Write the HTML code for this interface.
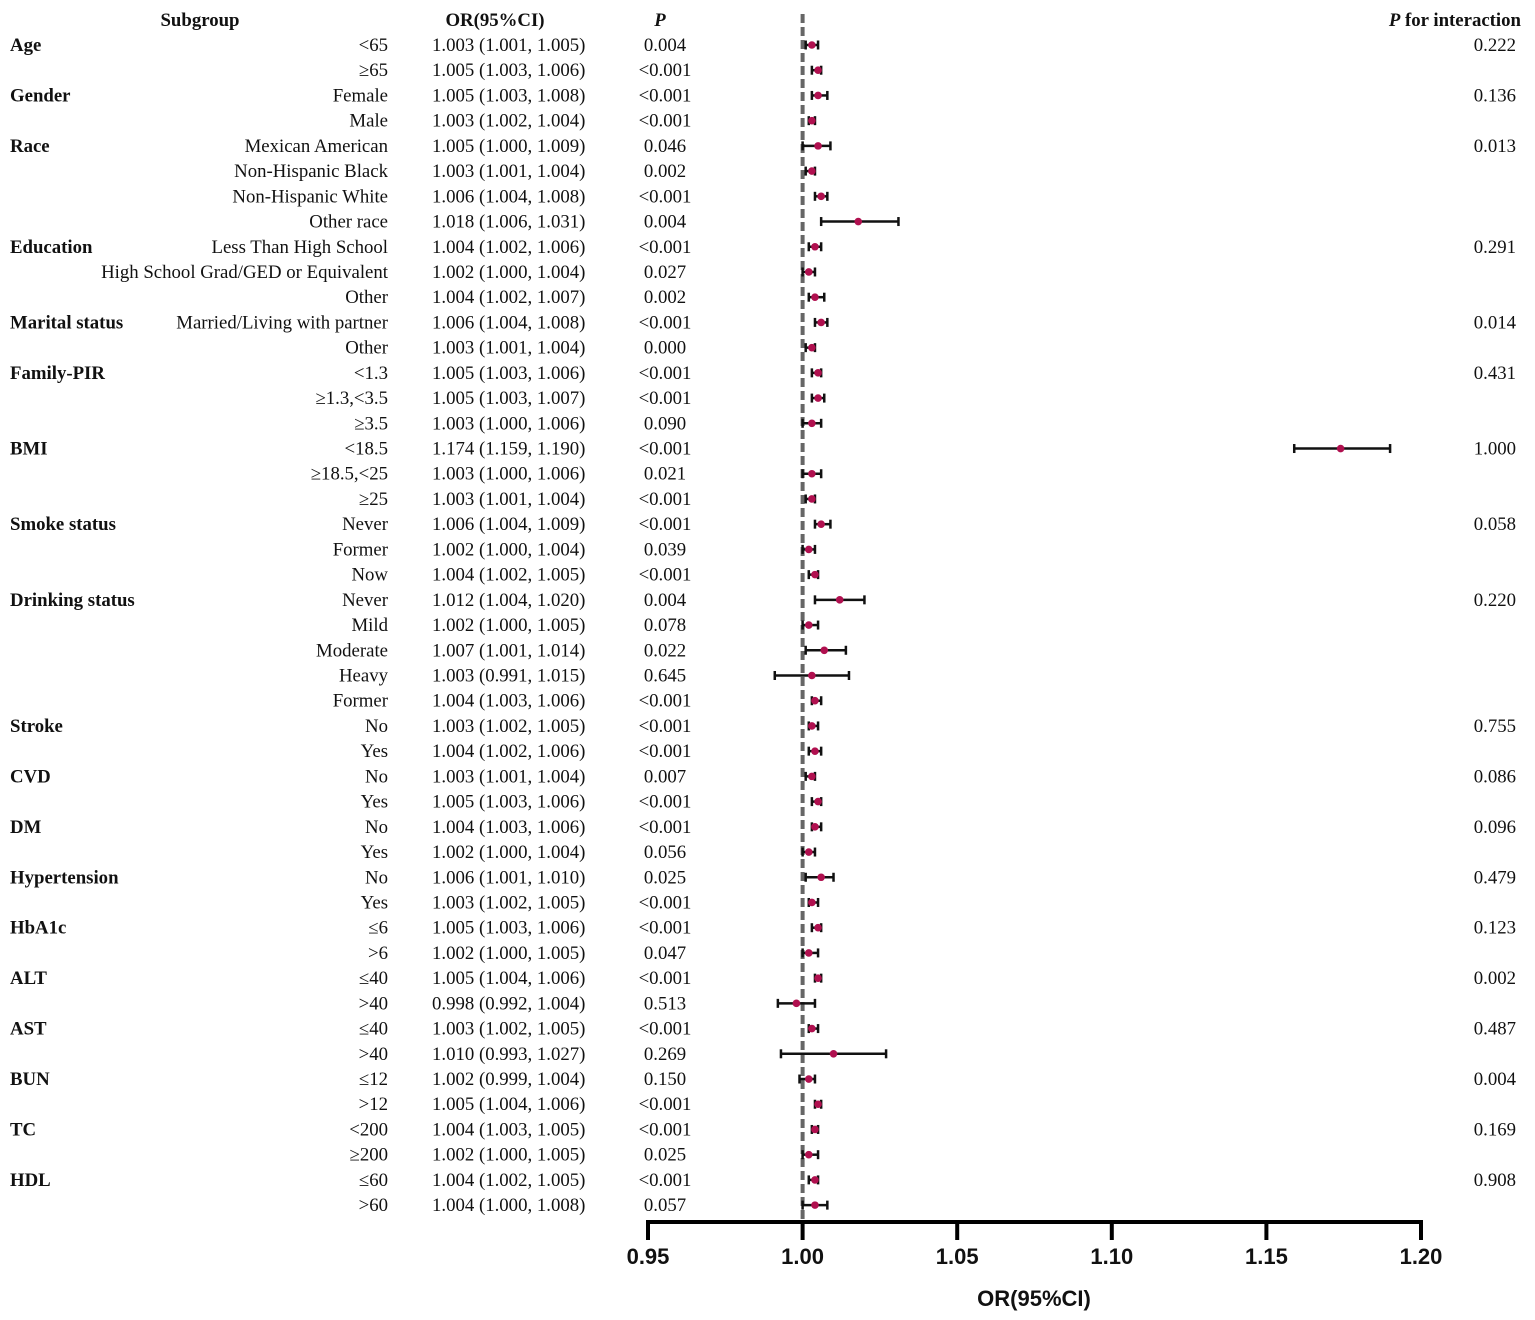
<!DOCTYPE html>
<html><head><meta charset="utf-8"><style>
html,body{margin:0;padding:0;background:#fff}
svg{display:block}
.t{font-family:"Liberation Serif","Noto Serif CJK SC",serif;font-size:18.8px;fill:#111}
.b{font-weight:bold}
.ax{font-family:"Liberation Sans",sans-serif;font-weight:bold;font-size:22px;fill:#111}
</style></head><body>
<svg id="chart" width="1535" height="1320" xmlns="http://www.w3.org/2000/svg">
<text class="t b" x="200" y="26" text-anchor="middle">Subgroup</text>
<text class="t b" x="495" y="26" text-anchor="middle">OR(95%CI)</text>
<text class="t b" x="660" y="26" text-anchor="middle" font-style="italic">P</text>
<text class="t b" x="1521" y="26" text-anchor="end"><tspan font-style="italic">P</tspan> for interaction</text>
<g id="rows"></g>
<g id="marks"></g>
<g id="axis"></g>
<text class="ax" x="1034" y="1306" text-anchor="middle">OR(95%CI)</text>
</svg>
<script>
const groups=["Age","","Gender","","Race","","","","Education","","","Marital status","","Family-PIR","","","BMI","","","Smoke status","","","Drinking status","","","","","Stroke","","CVD","","DM","","Hypertension","","HbA1c","","ALT","","AST","","BUN","","TC","","HDL",""];
const subgroups=["<65","≥65","Female","Male","Mexican American","Non-Hispanic Black","Non-Hispanic White","Other race","Less Than High School","High School Grad/GED or Equivalent","Other","Married/Living with partner","Other","<1.3","≥1.3,<3.5","≥3.5","<18.5","≥18.5,<25","≥25","Never","Former","Now","Never","Mild","Moderate","Heavy","Former","No","Yes","No","Yes","No","Yes","No","Yes","≤6",">6","≤40",">40","≤40",">40","≤12",">12","<200","≥200","≤60",">60"];
const orVals=[1.003,1.005,1.005,1.003,1.005,1.003,1.006,1.018,1.004,1.002,1.004,1.006,1.003,1.005,1.005,1.003,1.174,1.003,1.003,1.006,1.002,1.004,1.012,1.002,1.007,1.003,1.004,1.003,1.004,1.003,1.005,1.004,1.002,1.006,1.003,1.005,1.002,1.005,0.998,1.003,1.010,1.002,1.005,1.004,1.002,1.004,1.004];
const lowVals=[1.001,1.003,1.003,1.002,1.000,1.001,1.004,1.006,1.002,1.000,1.002,1.004,1.001,1.003,1.003,1.000,1.159,1.000,1.001,1.004,1.000,1.002,1.004,1.000,1.001,0.991,1.003,1.002,1.002,1.001,1.003,1.003,1.000,1.001,1.002,1.003,1.000,1.004,0.992,1.002,0.993,0.999,1.004,1.003,1.000,1.002,1.000];
const highVals=[1.005,1.006,1.008,1.004,1.009,1.004,1.008,1.031,1.006,1.004,1.007,1.008,1.004,1.006,1.007,1.006,1.190,1.006,1.004,1.009,1.004,1.005,1.020,1.005,1.014,1.015,1.006,1.005,1.006,1.004,1.006,1.006,1.004,1.010,1.005,1.006,1.005,1.006,1.004,1.005,1.027,1.004,1.006,1.005,1.005,1.005,1.008];
const pVals=["0.004","<0.001","<0.001","<0.001","0.046","0.002","<0.001","0.004","<0.001","0.027","0.002","<0.001","0.000","<0.001","<0.001","0.090","<0.001","0.021","<0.001","<0.001","0.039","<0.001","0.004","0.078","0.022","0.645","<0.001","<0.001","<0.001","0.007","<0.001","<0.001","0.056","0.025","<0.001","<0.001","0.047","<0.001","0.513","<0.001","0.269","0.150","<0.001","<0.001","0.025","<0.001","0.057"];
const pInter=["0.222","","0.136","","0.013","","","","0.291","","","0.014","","0.431","","","1.000","","","0.058","","","0.220","","","","","0.755","","0.086","","0.096","","0.479","","0.123","","0.002","","0.487","","0.004","","0.169","","0.908",""];
const ticks=[0.95,1.00,1.05,1.10,1.15,1.20];
const NS="http://www.w3.org/2000/svg";
const X0=0.95,X1=1.20,PX0=648,PX1=1421;
function xs(v){return PX0+(v-X0)/(X1-X0)*(PX1-PX0);}
function ys(i){return 45+i*25.22;}
function mk(tag,attrs,parent){const e=document.createElementNS(NS,tag);for(const k in attrs)e.setAttribute(k,attrs[k]);parent.appendChild(e);return e;}
const rows=document.getElementById('rows'),marks=document.getElementById('marks'),axis=document.getElementById('axis');
const ref=mk('line',{x1:xs(1),x2:xs(1),y1:14,y2:1222,stroke:'#666','stroke-width':4,'stroke-dasharray':'9,4'},marks);


for(let i=0;i<orVals.length;i++){
  const y=ys(i)+6;
  if(groups[i]){const g=mk('text',{class:'t b',x:10,y:y},rows);g.textContent=groups[i];
    
    }
  const s=mk('text',{class:'t',x:388,y:y,'text-anchor':'end'},rows);s.textContent=subgroups[i];
  
  
  const o=mk('text',{class:'t',x:432,y:y},rows);o.textContent=orVals[i].toFixed(3)+' ('+lowVals[i].toFixed(3)+', '+highVals[i].toFixed(3)+')';
  
  
  const p=mk('text',{class:'t',x:665,y:y,'text-anchor':'middle'},rows);p.textContent=pVals[i];
  
  
  if(pInter[i]){const q=mk('text',{class:'t',x:1516,y:y,'text-anchor':'end'},rows);q.textContent=pInter[i];
    
    }
  const yc=ys(i);
  const g=mk('g',{},marks);
  
  
  const a=xs(lowVals[i]),b=xs(highVals[i]);
  mk('line',{x1:a,x2:b,y1:yc,y2:yc,stroke:'#111','stroke-width':2.5},g);
  mk('line',{x1:a,x2:a,y1:yc-4.5,y2:yc+4.5,stroke:'#111','stroke-width':2.5},g);
  mk('line',{x1:b,x2:b,y1:yc-4.5,y2:yc+4.5,stroke:'#111','stroke-width':2.5},g);
  mk('circle',{cx:xs(orVals[i]),cy:yc,r:3.8,fill:'#b0104f'},g);
}
const al=mk('line',{x1:PX0-2,x2:PX1+2,y1:1222,y2:1222,stroke:'#000','stroke-width':4},axis);


ticks.forEach(t=>{
  const x=xs(t);
  const tk=mk('line',{x1:x,x2:x,y1:1220,y2:1240,stroke:'#000','stroke-width':4},axis);
  
  
  const l=mk('text',{class:'ax',x:x,y:1264,'text-anchor':'middle'},axis);l.textContent=t.toFixed(2);
  
  
});
</script>
</body></html>
